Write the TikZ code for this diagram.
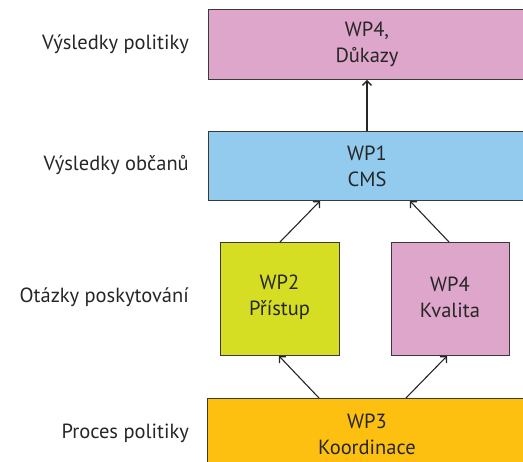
\documentclass[tikz,border=0pt]{standalone}
\usepackage{fontspec}
\setmainfont{PT Sans}
\usetikzlibrary{arrows.meta}
\definecolor{cpink}{HTML}{DDA6CA}
\definecolor{cblue}{HTML}{92CBEE}
\definecolor{cgreen}{HTML}{D6DE23}
\definecolor{corange}{HTML}{FDC010}
\definecolor{cline}{HTML}{3A3A3A}
\begin{document}
\begin{tikzpicture}[x=1pt,y=-1pt,
  wpbox/.style={draw=cline,line width=1.3pt,inner sep=0pt},
  wptext/.style={align=center,inner sep=0pt,font=\fontsize{20.5}{26}\selectfont,text=black!85},
  lbl/.style={anchor=east,inner sep=0pt,font=\fontsize{20.5}{26}\selectfont,text=black!85},
  arr/.style={-{Straight Barb[length=4.5pt,width=9pt,line width=1.3pt]},line width=1.1pt,draw=black!85}]
\useasboundingbox (0,0) rectangle (523,462);
\clip (0,0) rectangle (523,462);
\node[wpbox,fill=cpink,minimum width=330,minimum height=70,anchor=north west] (p) at (208,9) {};
\node[wpbox,fill=cblue,minimum width=330,minimum height=69,anchor=north west] (c) at (208,131) {};
\node[wpbox,fill=cgreen,minimum width=119,minimum height=113,anchor=north west] (a) at (220,242) {};
\node[wpbox,fill=cpink,minimum width=118,minimum height=113,anchor=north west] (q) at (391,242) {};
\node[wpbox,fill=corange,minimum width=330,minimum height=80,anchor=north west] (k) at (207,398) {};
\node[wptext] (pt) at (367,44) {WP4,\\Důkazy};
\node[wptext] (ct) at (367,166) {WP1\\CMS};
\node[wptext] (at) at (279.5,297) {WP2\\Přístup};
\node[wptext] (qt) at (450,297) {WP4\\Kvalita};
\node[wptext] (kt) at (367,434) {WP3\\Koordinace};
\node[lbl] (l1) at (189,44) {Výsledky politiky};
\node[lbl] (l2) at (189,165) {Výsledky občanů};
\node[lbl] (l3) at (189,297) {Otázky poskytování};
\node[lbl] (l4) at (189,433) {Proces politiky};
\coordinate (c1) at (367,131);
\coordinate (p1) at (367,80);
\draw[arr] (c1) -- (p1);
\coordinate (a1) at (280,242);
\coordinate (c2) at (320,201);
\draw[arr] (a1) -- (c2);
\coordinate (q1) at (449,242);
\coordinate (c3) at (410,201);
\draw[arr] (q1) -- (c3);
\coordinate (k1) at (319,398);
\coordinate (a2) at (279,356);
\draw[arr] (k1) -- (a2);
\coordinate (k2) at (406,398);
\coordinate (q2) at (447,356);
\draw[arr] (k2) -- (q2);
\end{tikzpicture}
\end{document}
